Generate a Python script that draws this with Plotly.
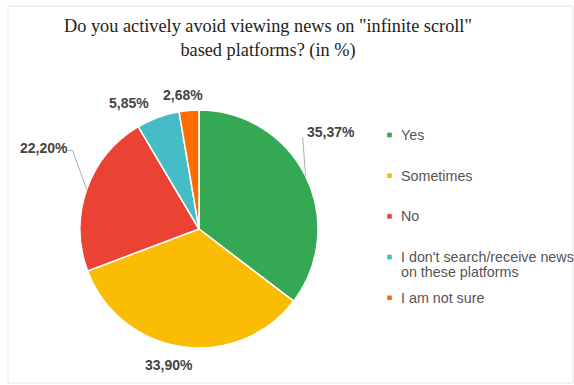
import math
import plotly.graph_objects as go

# Survey answers and their shares (in %)
answers = ["Yes", "Sometimes", "No",
           "I don't search/receive news<br>on these platforms", "I am not sure"]
shares = [35.37, 33.90, 22.20, 5.85, 2.68]
slice_colors = ["#34A853", "#FBBC04", "#EA4335", "#46BDC6", "#FF6D01"]

W, H = 574, 385
# pie geometry in pixels
CX, CY, R = 199, 229, 119

def px(x):
    return x / W

def py(y):
    return 1 - y / H

fig = go.Figure(go.Pie(
    labels=answers,
    values=shares,
    sort=False,
    direction="clockwise",
    rotation=0,
    marker=dict(colors=slice_colors, line=dict(color="white", width=1.5)),
    textinfo="none",
    hoverinfo="label+percent",
    showlegend=False,
    domain=dict(x=[px(CX - R), px(CX + R)], y=[py(CY + R), py(CY - R)]),
))

# label offsets from the slice edge (pixels), and optional leader elbows
label_offsets = [(25, -44), (-13, 18), (-43, -42), (-29, -14), (-6, -15)]
leader_paths = {0: [(-3, -39)], 2: [(-14, -39), (-19, -39)]}

annotations = []
shapes = []
total = sum(shares)
acc = 0.0
for i, v in enumerate(shares):
    mid = 90 - (acc + v / 2) / total * 360
    acc += v
    ex = CX + R * math.cos(math.radians(mid))
    ey = CY - R * math.sin(math.radians(mid))
    dx, dy = label_offsets[i]
    txt = f"{v:.2f}%".replace(".", ",")
    annotations.append(dict(
        x=px(ex + dx), y=py(ey + dy), xref="paper", yref="paper",
        text=f"<b>{txt}</b>", showarrow=False,
        font=dict(family="Liberation Sans, Arial", size=14, color="#444444"),
        xanchor="center", yanchor="middle",
    ))
    if i in leader_paths:
        pts = [(ex, ey)] + [(ex + a, ey + b) for a, b in leader_paths[i]]
        path = "M " + " L ".join(f"{px(a)},{py(b)}" for a, b in pts)
        shapes.append(dict(type="path", path=path, xref="paper", yref="paper",
                           line=dict(color="#b0b0b0", width=1)))

# legend drawn at the right
LEG_X, LEG_Y0, LEG_STEP, LINE_GAP = 389.5, 135, 40.7, 15
for i, (name, col) in enumerate(zip(answers, slice_colors)):
    y = LEG_Y0 + i * LEG_STEP
    shapes.append(dict(type="rect", xref="paper", yref="paper",
                       x0=px(LEG_X - 2.3), x1=px(LEG_X + 2.3),
                       y0=py(y + 2.3), y1=py(y - 2.3),
                       fillcolor=col, line=dict(width=0)))
    for k, line in enumerate(name.split("<br>")):
        annotations.append(dict(
            x=px(399), y=py(y + k * LINE_GAP),
            xref="paper", yref="paper", text=line, showarrow=False,
            xanchor="left", yanchor="middle",
            font=dict(family="Liberation Sans, Arial", size=14.3, color="#555555"),
        ))

# title
annotations.append(dict(
    x=px(268), y=py(14), xref="paper", yref="paper",
    text='Do you actively avoid viewing news on "infinite scroll"<br>based platforms? (in %)',
    showarrow=False, xanchor="center", yanchor="top",
    font=dict(family="Liberation Serif, Times New Roman", size=18.3, color="#222222"),
))

# thin frame around the chart
shapes.append(dict(type="rect", xref="paper", yref="paper",
                   x0=px(8), x1=px(573), y0=py(383), y1=py(6),
                   line=dict(color="#e6e6e6", width=1)))

fig.update_layout(
    width=W, height=H,
    margin=dict(l=0, r=0, t=0, b=0),
    paper_bgcolor="white",
    annotations=annotations,
    shapes=shapes,
)

fig.write_html("out.html")
